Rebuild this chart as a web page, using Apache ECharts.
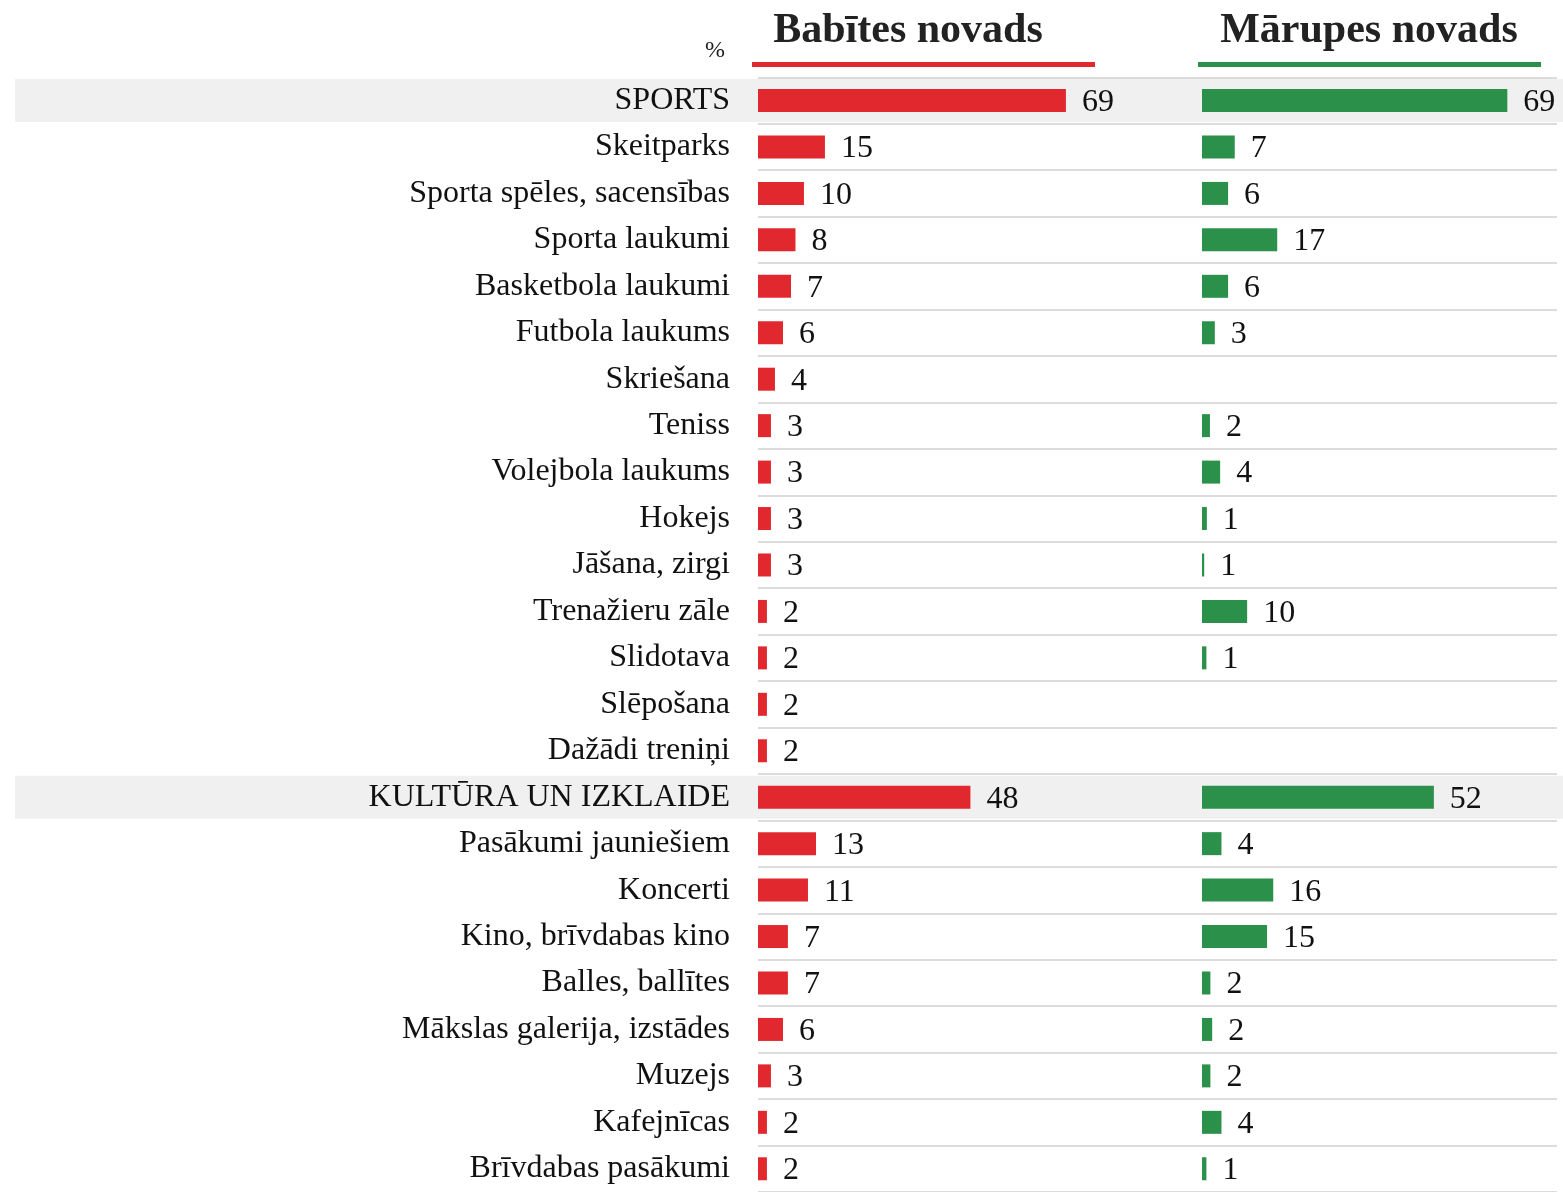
<!DOCTYPE html>
<html>
<head>
<meta charset="utf-8">
<script src="https://cdn.jsdelivr.net/npm/echarts@6/dist/echarts.min.js"></script>
<style>html,body{margin:0;padding:0;background:#fff}#c{width:1563px;height:1192px}</style>
</head>
<body>
<div id="c"></div>
<script>
const categories = ['SPORTS','Skeitparks','Sporta spēles, sacensības','Sporta laukumi','Basketbola laukumi','Futbola laukums','Skriešana','Teniss','Volejbola laukums','Hokejs','Jāšana, zirgi','Trenažieru zāle','Slidotava','Slēpošana','Dažādi treniņi','KULTŪRA UN IZKLAIDE','Pasākumi jauniešiem','Koncerti','Kino, brīvdabas kino','Balles, ballītes','Mākslas galerija, izstādes','Muzejs','Kafejnīcas','Brīvdabas pasākumi'];
const headerRows = ['SPORTS','KULTŪRA UN IZKLAIDE'];
const babite = [69,15,10.3,8.4,7.4,5.6,3.8,2.9,2.9,2.9,2.9,2.0,2.0,2.0,2.0,47.6,13.0,11.2,6.7,6.7,5.6,2.9,2.0,2.0];
const marupe = [69,7.4,5.9,17,5.9,2.9,null,1.8,4.1,1.1,0.5,10.2,1.0,null,null,52.4,4.4,16.1,14.7,1.9,2.3,1.9,4.4,1.0];
const panelTitles = ['Babītes novads','Mārupes novads'];
const unitLabel = '%';

const RED = '#e1282e', GREEN = '#2b914a';
const FONT = '"Liberation Serif", "Times New Roman", serif';
const TOP = 77.3, H = 1119.5;

const bandData = categories.map(c => headerRows.includes(c) ? 1 : null);
const lbl = {show:true, position:'right', distance:16, offset:[0,2], color:'#111', fontFamily:FONT, fontSize:32,
  formatter: p => p.value == null ? '' : String(Math.round(p.value))};

const chart = echarts.init(document.getElementById('c'), null, {renderer:'canvas'});
chart.setOption({
  animation:false,
  grid:[
    {left:15, width:1548, top:TOP, height:H},
    {left:758, width:799, top:TOP, height:H},
    {left:758, width:357, top:TOP, height:H},
    {left:1202, width:354, top:TOP, height:H}
  ],
  xAxis:[0,1,2,3].map(i => ({type:'value', gridIndex:i, min:0, max: i<2 ? 1 : 80, show:false})),
  yAxis:[0,1,2,3].map(i => ({
    type:'category', gridIndex:i, data:categories, inverse:true, z: i===1 ? 3 : 2,
    axisLine:{show:false}, axisTick:{show:false},
    axisLabel: i===2 ? {show:true, margin:28, color:'#111', fontFamily:FONT, fontSize:32, padding:[4,0,0,0]} : {show:false},
    splitLine: i===1 ? {show:true, lineStyle:{color:'#dcdcdc', width:2}} : {show:false}
  })),
  series:[
    {type:'bar', xAxisIndex:0, yAxisIndex:0, data:bandData, barWidth:43, z:1, silent:true,
      itemStyle:{color:'#f0f0f0'}},
    {type:'bar', xAxisIndex:2, yAxisIndex:2, data:babite, barWidth:23, z:4,
      itemStyle:{color:RED}, label:lbl},
    {type:'bar', xAxisIndex:3, yAxisIndex:3, data:marupe, barWidth:23, z:4,
      itemStyle:{color:GREEN}, label:lbl}
  ],
  graphic:[
    {type:'text', x:908, y:31, style:{text:panelTitles[0], align:'center', verticalAlign:'middle',
      font:'bold 42px '+FONT, fill:'#222'}},
    {type:'text', x:1369, y:31, style:{text:panelTitles[1], align:'center', verticalAlign:'middle',
      font:'bold 42px '+FONT, fill:'#222'}},
    {type:'rect', shape:{x:752, y:62, width:343, height:5}, style:{fill:RED}},
    {type:'rect', shape:{x:1198, y:62, width:343, height:5}, style:{fill:GREEN}},
    {type:'text', x:715, y:51, style:{text:unitLabel, align:'center', verticalAlign:'middle',
      font:'24px '+FONT, fill:'#222'}}
  ]
});
</script>
</body>
</html>
